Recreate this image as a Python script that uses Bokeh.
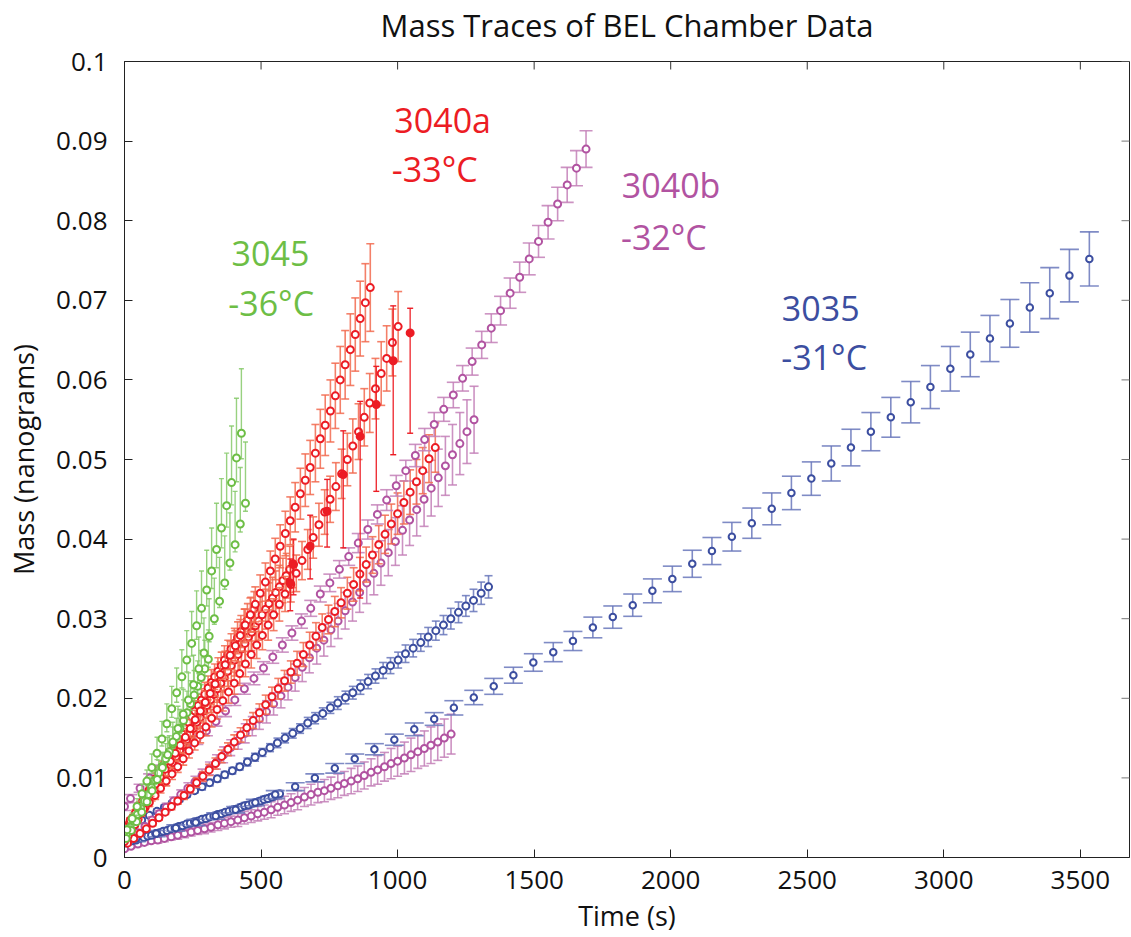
import math
from bokeh.plotting import figure
from bokeh.models import ColumnDataSource, Range1d, FixedTicker, LinearAxis
from bokeh.embed import file_html
from bokeh.resources import INLINE
from bokeh.core.properties import value

# ---------------- data ----------------
title_text = "Mass Traces of BEL Chamber Data"
x_ticks = [0, 500, 1000, 1500, 2000, 2500, 3000, 3500]
y_ticks = [0, 0.01, 0.02, 0.03, 0.04, 0.05, 0.06, 0.07, 0.08, 0.09, 0.1]
y_tick_labels = ["0", "0.01", "0.02", "0.03", "0.04", "0.05", "0.06", "0.07", "0.08", "0.09", "0.1"]
x_max = 3680
y_max = 0.1

# 3035 (-31 C) : sparse run with wide caps
b1_t = [43, 116, 188, 261, 334, 407, 479, 552, 625, 697, 770, 843, 915, 988, 1061, 1134, 1206, 1279, 1352, 1424,
        1497, 1570, 1642, 1715, 1788, 1861, 1933, 2006, 2079, 2151, 2224, 2297, 2370, 2442, 2515, 2588, 2660, 2733,
        2806, 2879, 2951, 3024, 3097, 3169, 3242, 3315, 3388, 3460, 3533]
b1_m = [0.0024, 0.0030, 0.0037, 0.0044, 0.0052, 0.0060, 0.0069, 0.0079, 0.0089, 0.0100, 0.0112, 0.0124, 0.0136,
        0.0148, 0.0161, 0.0174, 0.0188, 0.0201, 0.0215, 0.0229, 0.0245, 0.0258, 0.0272, 0.0289, 0.0302, 0.0317,
        0.0335, 0.0350, 0.0369, 0.0385, 0.0403, 0.0420, 0.0438, 0.0458, 0.0476, 0.0495, 0.0515, 0.0535, 0.0553,
        0.0572, 0.0591, 0.0614, 0.0632, 0.0652, 0.0671, 0.0691, 0.0709, 0.0731, 0.0752]
b1_e = [0.0004, 0.0004, 0.0004, 0.0004, 0.0004, 0.0004, 0.0004, 0.0005, 0.0005, 0.0005, 0.0006, 0.0006, 0.0007,
        0.0007, 0.0008, 0.0008, 0.0009, 0.0009, 0.0010, 0.0010, 0.0011, 0.0012, 0.0012, 0.0013, 0.0014, 0.0014,
        0.0015, 0.0016, 0.0017, 0.0017, 0.0018, 0.0019, 0.0020, 0.0021, 0.0021, 0.0022, 0.0023, 0.0024, 0.0025,
        0.0026, 0.0027, 0.0028, 0.0028, 0.0029, 0.0030, 0.0031, 0.0032, 0.0033, 0.0034]

# 3035 : middle run
b2_t = [8, 36, 63, 91, 119, 146, 174, 201, 229, 257, 284, 312, 340, 367, 395, 422, 450, 478, 505, 533, 560, 588,
        616, 643, 671, 698, 726, 754, 781, 809, 836, 864, 892, 919, 947, 974, 1002, 1029, 1057, 1085, 1112, 1140,
        1168, 1195, 1223, 1250, 1278, 1306, 1333]
b2_m = [0.0036, 0.0041, 0.0047, 0.0053, 0.0058, 0.0063, 0.0068, 0.0073, 0.0079, 0.0084, 0.0089, 0.0094, 0.0099,
        0.0104, 0.0109, 0.0114, 0.0120, 0.0126, 0.0132, 0.0138, 0.0144, 0.0150, 0.0156, 0.0162, 0.0169, 0.0175,
        0.0181, 0.0188, 0.0194, 0.0201, 0.0207, 0.0214, 0.0221, 0.0228, 0.0235, 0.0241, 0.0248, 0.0256, 0.0263,
        0.0270, 0.0277, 0.0285, 0.0292, 0.0300, 0.0308, 0.0316, 0.0323, 0.0332, 0.0340]
b2_e = [0.0003, 0.0003, 0.0003, 0.0003, 0.0003, 0.0003, 0.0003, 0.0003, 0.0003, 0.0003,
        0.0004, 0.0004, 0.0004, 0.0004, 0.0004, 0.0004, 0.0005, 0.0005, 0.0005, 0.0005,
        0.0006, 0.0006, 0.0006, 0.0006, 0.0007, 0.0007, 0.0007, 0.0007, 0.0008, 0.0008,
        0.0008, 0.0009, 0.0009, 0.0009, 0.0010, 0.0010, 0.0010, 0.0011, 0.0011, 0.0011,
        0.0012, 0.0012, 0.0012, 0.0013, 0.0013, 0.0013, 0.0014, 0.0014, 0.0014]

# 3035 : short dense run
b3_t = [0, 14, 28, 43, 57, 71, 85, 99, 114, 128, 142, 156, 170, 185, 199, 213, 227, 241, 256, 270, 284, 298, 312,
        327, 341, 355, 369, 383, 398, 412, 426, 440, 454, 469, 483, 497, 511, 525, 540, 554, 568]
b3_m = [0.0018, 0.0019, 0.0021, 0.0022, 0.0024, 0.0025, 0.0027, 0.0028, 0.0030, 0.0031, 0.0033, 0.0034, 0.0036,
        0.0037, 0.0039, 0.0040, 0.0042, 0.0043, 0.0045, 0.0046, 0.0048, 0.0049, 0.0051, 0.0052, 0.0054, 0.0055,
        0.0057, 0.0058, 0.0060, 0.0061, 0.0063, 0.0065, 0.0066, 0.0068, 0.0069, 0.0071, 0.0073, 0.0074, 0.0076,
        0.0078, 0.0080]
b3_e = [0.0002, 0.0002, 0.0002, 0.0002, 0.0002, 0.0002, 0.0002, 0.0002, 0.0002, 0.0002, 0.0002, 0.0002, 0.0002,
        0.0002, 0.0003, 0.0003, 0.0003, 0.0003, 0.0003, 0.0003, 0.0003, 0.0003, 0.0003, 0.0003, 0.0003, 0.0003,
        0.0003, 0.0003, 0.0004, 0.0004, 0.0004, 0.0004, 0.0004, 0.0004, 0.0004, 0.0004, 0.0004, 0.0004, 0.0004,
        0.0004, 0.0004]

# 3040b (-32 C) : lowest run
p1_t = [0, 24, 49, 73, 98, 122, 146, 171, 195, 220, 244, 268, 293, 317, 342, 366, 390, 415, 439, 464, 488, 512,
        537, 561, 586, 610, 634, 659, 683, 708, 732, 756, 781, 805, 830, 854, 878, 903, 927, 952, 976, 1000, 1025,
        1049, 1074, 1098, 1122, 1147, 1171, 1196]
p1_m = [0.0011, 0.0014, 0.0017, 0.0019, 0.0021, 0.0022, 0.0024, 0.0026, 0.0028, 0.0030,
        0.0032, 0.0034, 0.0036, 0.0038, 0.0041, 0.0043, 0.0045, 0.0047, 0.0050, 0.0052,
        0.0055, 0.0057, 0.0060, 0.0063, 0.0066, 0.0069, 0.0072, 0.0076, 0.0079, 0.0082,
        0.0084, 0.0087, 0.0090, 0.0093, 0.0096, 0.0099, 0.0103, 0.0107, 0.0110, 0.0114,
        0.0118, 0.0121, 0.0125, 0.0129, 0.0133, 0.0137, 0.0141, 0.0145, 0.0150, 0.0155]
p1_e = [0.0002, 0.0002, 0.0003, 0.0003, 0.0003, 0.0004, 0.0004, 0.0004, 0.0005, 0.0005,
        0.0005, 0.0005, 0.0006, 0.0006, 0.0007, 0.0007, 0.0007, 0.0008, 0.0008, 0.0008,
        0.0009, 0.0009, 0.0010, 0.0010, 0.0011, 0.0011, 0.0012, 0.0012, 0.0013, 0.0013,
        0.0014, 0.0014, 0.0015, 0.0015, 0.0016, 0.0016, 0.0017, 0.0017, 0.0018, 0.0018,
        0.0019, 0.0019, 0.0020, 0.0021, 0.0021, 0.0022, 0.0023, 0.0023, 0.0024, 0.0025]

# 3040b : main long run
p2_t = [0, 22, 57, 92, 126, 161, 196, 231, 265, 300, 335, 370, 404, 439, 474, 509, 543, 578, 613, 648, 682, 717,
        752, 787, 821, 856, 891, 926, 960, 995, 1030, 1065, 1099, 1134, 1169, 1204, 1238, 1273, 1308, 1343, 1377,
        1412, 1447, 1482, 1516, 1551, 1586, 1621, 1655, 1690]
p2_m = [0.0064, 0.0074, 0.0087, 0.0100, 0.0111, 0.0121, 0.0129, 0.0138, 0.0148, 0.0159, 0.0171,
        0.0184, 0.0198, 0.0212, 0.0225, 0.0238, 0.0252, 0.0267, 0.0282, 0.0297, 0.0313,
        0.0331, 0.0345, 0.0362, 0.0378, 0.0395, 0.0412, 0.0431, 0.0449, 0.0467, 0.0486,
        0.0505, 0.0525, 0.0544, 0.0563, 0.0581, 0.0602, 0.0623, 0.0644, 0.0665, 0.0687,
        0.0709, 0.0729, 0.0752, 0.0774, 0.0798, 0.0821, 0.0845, 0.0866, 0.0890]
p2_e = [0.0005, 0.0005, 0.0005, 0.0005, 0.0005, 0.0005, 0.0005, 0.0006, 0.0006, 0.0006,
        0.0006, 0.0007, 0.0007, 0.0007, 0.0008, 0.0008, 0.0008, 0.0009, 0.0009, 0.0009,
        0.0010, 0.0010, 0.0011, 0.0011, 0.0011, 0.0012, 0.0012, 0.0012, 0.0013, 0.0013,
        0.0013, 0.0014, 0.0014, 0.0015, 0.0015, 0.0016, 0.0016, 0.0017, 0.0017, 0.0018,
        0.0018, 0.0019, 0.0019, 0.0020, 0.0020, 0.0021, 0.0021, 0.0022, 0.0022, 0.0023]

# 3040b : run with larger error bars
p3_t = [22, 49, 75, 101, 127, 153, 180, 206, 232, 258, 284, 311, 337, 363, 389, 416, 442, 468, 494, 520, 546, 573,
        599, 625, 651, 677, 704, 730, 756, 782, 808, 835, 861, 887, 913, 939, 966, 992, 1018, 1044, 1070, 1097,
        1123, 1149, 1175, 1201, 1228, 1254, 1280]
p3_m = [0.0023, 0.0031, 0.0039, 0.0047, 0.0055, 0.0063, 0.0071, 0.0079, 0.0087, 0.0095,
        0.0103, 0.0112, 0.0120, 0.0129, 0.0138, 0.0147, 0.0156, 0.0165, 0.0174, 0.0183,
        0.0193, 0.0203, 0.0214, 0.0226, 0.0239, 0.0251, 0.0263, 0.0273, 0.0286, 0.0297,
        0.0310, 0.0321, 0.0333, 0.0345, 0.0357, 0.0370, 0.0383, 0.0397, 0.0411, 0.0424,
        0.0437, 0.0450, 0.0464, 0.0477, 0.0492, 0.0506, 0.0520, 0.0535, 0.0550]
p3_e = [0.0002, 0.0002, 0.0003, 0.0004, 0.0004, 0.0005, 0.0005, 0.0006, 0.0007, 0.0007,
        0.0008, 0.0008, 0.0009, 0.0010, 0.0010, 0.0011, 0.0012, 0.0012, 0.0013, 0.0014,
        0.0014, 0.0015, 0.0016, 0.0017, 0.0018, 0.0019, 0.0020, 0.0020, 0.0021, 0.0022,
        0.0023, 0.0024, 0.0025, 0.0026, 0.0027, 0.0028, 0.0029, 0.0030, 0.0031, 0.0032,
        0.0033, 0.0034, 0.0035, 0.0036, 0.0037, 0.0038, 0.0039, 0.0040, 0.0042]

# 3040a (-33 C) : steepest run
r1_t = [3, 21, 40, 58, 76, 95, 113, 131, 149, 168, 186, 204, 223, 241, 259, 278, 296, 314, 332, 351, 369, 387,
        406, 424, 442, 461, 479, 497, 516, 534, 552, 570, 589, 607, 625, 644, 662, 680, 699, 717, 735, 754, 772,
        790, 808, 827, 845, 863, 882, 900]
r1_m = [0.0038, 0.0047, 0.0056, 0.0065, 0.0074, 0.0083, 0.0092, 0.0101, 0.0111, 0.0121,
        0.0131, 0.0141, 0.0151, 0.0162, 0.0173, 0.0184, 0.0195, 0.0206, 0.0218, 0.0230,
        0.0242, 0.0254, 0.0266, 0.0279, 0.0292, 0.0305, 0.0318, 0.0332, 0.0346, 0.0360,
        0.0375, 0.0391, 0.0407, 0.0423, 0.0440, 0.0457, 0.0474, 0.0490, 0.0508, 0.0526,
        0.0543, 0.0561, 0.0580, 0.0600, 0.0619, 0.0638, 0.0657, 0.0677, 0.0697, 0.0716]
r1_e = [0.0003, 0.0003, 0.0004, 0.0005, 0.0005, 0.0006, 0.0006, 0.0007, 0.0008, 0.0008,
        0.0009, 0.0010, 0.0011, 0.0011, 0.0012, 0.0013, 0.0014, 0.0014, 0.0015, 0.0016,
        0.0017, 0.0018, 0.0019, 0.0020, 0.0020, 0.0021, 0.0022, 0.0023, 0.0024, 0.0025,
        0.0026, 0.0027, 0.0028, 0.0030, 0.0031, 0.0032, 0.0033, 0.0034, 0.0036, 0.0037,
        0.0038, 0.0039, 0.0041, 0.0042, 0.0043, 0.0045, 0.0046, 0.0047, 0.0049, 0.0055]

# 3040a : second open-circle run
r2_t = [8, 29, 50, 70, 91, 112, 132, 153, 174, 195, 215, 236, 257, 277, 298, 319, 339, 360, 381, 402, 422, 443,
        464, 484, 505, 526, 546, 567, 588, 609, 629, 650, 671, 691, 712, 733, 753, 774, 795, 816, 836, 857, 878,
        898, 919, 940, 960, 981, 1002]
r2_m = [0.0037, 0.0045, 0.0053, 0.0061, 0.0069, 0.0078, 0.0087, 0.0096, 0.0105, 0.0114,
        0.0124, 0.0134, 0.0144, 0.0154, 0.0164, 0.0175, 0.0186, 0.0197, 0.0208, 0.0219,
        0.0231, 0.0243, 0.0255, 0.0267, 0.0279, 0.0292, 0.0305, 0.0318, 0.0331, 0.0343,
        0.0357, 0.0373, 0.0387, 0.0402, 0.0418, 0.0434, 0.0450, 0.0466, 0.0482, 0.0500,
        0.0517, 0.0535, 0.0553, 0.0571, 0.0589, 0.0608, 0.0627, 0.0647, 0.0667]
r2_e = [0.0003, 0.0003, 0.0004, 0.0004, 0.0005, 0.0005, 0.0006, 0.0006, 0.0007, 0.0007,
        0.0008, 0.0009, 0.0009, 0.0010, 0.0011, 0.0011, 0.0012, 0.0013, 0.0014, 0.0014,
        0.0015, 0.0016, 0.0017, 0.0017, 0.0018, 0.0019, 0.0020, 0.0021, 0.0022, 0.0022,
        0.0023, 0.0024, 0.0025, 0.0026, 0.0027, 0.0028, 0.0029, 0.0030, 0.0031, 0.0033,
        0.0034, 0.0035, 0.0036, 0.0037, 0.0038, 0.0040, 0.0041, 0.0042, 0.0044]

# 3040a : run mixed with the purple ones
r3_t = [11, 34, 57, 80, 103, 126, 149, 172, 195, 218, 241, 264, 287, 310, 333, 356, 379, 402, 425, 448, 471, 494,
        517, 540, 563, 586, 609, 632, 655, 678, 701, 724, 747, 770, 793, 816, 839, 862, 885, 908, 931, 954, 977,
        1000, 1023, 1046, 1069, 1092, 1115, 1138]
r3_m = [0.0018, 0.0024, 0.0030, 0.0036, 0.0043, 0.0050, 0.0057, 0.0064, 0.0071, 0.0078,
        0.0086, 0.0094, 0.0102, 0.0110, 0.0118, 0.0127, 0.0136, 0.0145, 0.0154, 0.0163,
        0.0172, 0.0182, 0.0192, 0.0202, 0.0212, 0.0222, 0.0233, 0.0244, 0.0255, 0.0267,
        0.0278, 0.0289, 0.0299, 0.0309, 0.0320, 0.0332, 0.0343, 0.0356, 0.0368, 0.0380,
        0.0393, 0.0406, 0.0419, 0.0432, 0.0446, 0.0459, 0.0472, 0.0486, 0.0501, 0.0515]
r3_e = [0.0002, 0.0002, 0.0002, 0.0002, 0.0003, 0.0003, 0.0003, 0.0004, 0.0004, 0.0005,
        0.0005, 0.0006, 0.0006, 0.0007, 0.0007, 0.0008, 0.0008, 0.0009, 0.0009, 0.0010,
        0.0010, 0.0011, 0.0012, 0.0012, 0.0013, 0.0013, 0.0014, 0.0015, 0.0015, 0.0016,
        0.0017, 0.0017, 0.0018, 0.0019, 0.0019, 0.0020, 0.0021, 0.0021, 0.0022, 0.0023,
        0.0024, 0.0024, 0.0025, 0.0026, 0.0027, 0.0028, 0.0028, 0.0029, 0.0030, 0.0031]

# 3040a : dense runs
r4_t = [0, 13, 25, 38, 50, 63, 76, 88, 101, 113, 126, 139, 151, 164, 176, 189, 202, 214, 227, 239, 252, 265, 277,
        290, 302, 315, 328, 340, 353, 365, 378, 391, 403, 416, 428, 441, 454, 466, 479, 491, 504, 517, 529, 542,
        554, 567, 580, 592, 605, 617]
r4_m = [0.0020, 0.0027, 0.0034, 0.0041, 0.0048, 0.0056, 0.0063, 0.0070, 0.0077, 0.0084,
        0.0091, 0.0098, 0.0105, 0.0113, 0.0119, 0.0127, 0.0134, 0.0141, 0.0148, 0.0155,
        0.0162, 0.0170, 0.0176, 0.0184, 0.0191, 0.0198, 0.0205, 0.0212, 0.0219, 0.0226,
        0.0234, 0.0241, 0.0248, 0.0255, 0.0262, 0.0269, 0.0277, 0.0283, 0.0291, 0.0297,
        0.0305, 0.0312, 0.0319, 0.0326, 0.0333, 0.0340, 0.0348, 0.0354, 0.0362, 0.0369]
r4_e = [0.0002, 0.0002, 0.0003, 0.0003, 0.0004, 0.0004, 0.0005, 0.0006, 0.0006, 0.0007,
        0.0007, 0.0008, 0.0008, 0.0009, 0.0010, 0.0010, 0.0011, 0.0011, 0.0012, 0.0012,
        0.0013, 0.0014, 0.0014, 0.0015, 0.0015, 0.0016, 0.0016, 0.0017, 0.0018, 0.0018,
        0.0019, 0.0019, 0.0020, 0.0020, 0.0021, 0.0022, 0.0022, 0.0023, 0.0023, 0.0024,
        0.0024, 0.0025, 0.0026, 0.0026, 0.0027, 0.0027, 0.0028, 0.0028, 0.0029, 0.0030]

r5_t = [6, 18, 30, 42, 54, 66, 78, 90, 102, 114, 126, 138, 150, 162, 174, 186, 198, 210, 222, 234, 246, 258, 270,
        282, 294, 306, 318, 330, 342, 354, 366, 378, 390, 402, 414, 426, 438, 450, 462, 474]
r5_m = [0.0036, 0.0043, 0.0050, 0.0057, 0.0064, 0.0071, 0.0078, 0.0085, 0.0092, 0.0099,
        0.0106, 0.0113, 0.0120, 0.0127, 0.0135, 0.0142, 0.0149, 0.0156, 0.0163, 0.0170,
        0.0177, 0.0184, 0.0191, 0.0198, 0.0205, 0.0213, 0.0220, 0.0227, 0.0234, 0.0241,
        0.0248, 0.0255, 0.0262, 0.0269, 0.0276, 0.0284, 0.0291, 0.0298, 0.0305, 0.0312]
r5_e = [0.0003, 0.0003, 0.0004, 0.0004, 0.0005, 0.0005, 0.0006, 0.0006, 0.0007, 0.0007,
        0.0008, 0.0008, 0.0009, 0.0009, 0.0010, 0.0010, 0.0011, 0.0011, 0.0012, 0.0012,
        0.0013, 0.0013, 0.0014, 0.0014, 0.0015, 0.0015, 0.0016, 0.0016, 0.0017, 0.0017,
        0.0018, 0.0018, 0.0019, 0.0019, 0.0020, 0.0020, 0.0021, 0.0021, 0.0022, 0.0022]

# 3040a : filled points with long lower bars
rf_t = [607, 619, 680, 742, 801, 863, 922, 984, 1046]
rf_m = [0.0345, 0.0368, 0.0391, 0.0435, 0.0481, 0.0529, 0.0569, 0.0624, 0.0659]
rf_hi = [0.0375, 0.0400, 0.0430, 0.0475, 0.0536, 0.0573, 0.0617, 0.0693, 0.0690]
rf_lo = [0.0310, 0.0330, 0.0350, 0.0390, 0.0389, 0.0326, 0.0460, 0.0506, 0.0533]

# 3045 (-36 C)
g1_t = [9, 28, 46, 64, 82, 100, 119, 137, 155, 173, 191, 210, 228, 246, 264, 282, 301, 319, 337, 355, 374, 392,
        410, 428]
g1_m = [0.0035, 0.0049, 0.0064, 0.0080, 0.0096, 0.0113, 0.0131, 0.0149, 0.0168, 0.0187, 0.0207, 0.0227, 0.0248,
        0.0269, 0.0291, 0.0313, 0.0336, 0.0360, 0.0387, 0.0414, 0.0442, 0.0471, 0.0502, 0.0533]
g1_up = [0.0005, 0.0007, 0.0010, 0.0012, 0.0014, 0.0017, 0.0020, 0.0022, 0.0025, 0.0028, 0.0031, 0.0034, 0.0037,
         0.0040, 0.0044, 0.0047, 0.0050, 0.0054, 0.0058, 0.0062, 0.0066, 0.0071, 0.0075, 0.0081]
g1_dn = [0.0002, 0.0003, 0.0004, 0.0005, 0.0006, 0.0007, 0.0008, 0.0009, 0.0010, 0.0011, 0.0012, 0.0014, 0.0015,
         0.0016, 0.0017, 0.0019, 0.0020, 0.0022, 0.0023, 0.0025, 0.0027, 0.0028, 0.0030, 0.0032]

g2_t = [6, 25, 44, 63, 82, 101, 120, 139, 158, 177, 196, 215, 234, 253, 272, 291, 310, 329, 348, 367, 386, 405,
        424, 443]
g2_m = [0.0024, 0.0034, 0.0045, 0.0057, 0.0070, 0.0084, 0.0098, 0.0113, 0.0129, 0.0145, 0.0162, 0.0180, 0.0198,
        0.0217, 0.0237, 0.0257, 0.0278, 0.0300, 0.0322, 0.0345, 0.0370, 0.0393, 0.0419, 0.0445]
g2_up = [0.0004, 0.0006, 0.0008, 0.0010, 0.0012, 0.0014, 0.0017, 0.0019, 0.0022, 0.0025, 0.0028, 0.0031, 0.0034,
         0.0037, 0.0040, 0.0044, 0.0047, 0.0051, 0.0055, 0.0059, 0.0063, 0.0067, 0.0071, 0.0077]
g2_dn = [0.0001, 0.0001, 0.0001, 0.0001, 0.0002, 0.0002, 0.0002, 0.0003, 0.0003, 0.0003, 0.0004, 0.0004, 0.0005,
         0.0005, 0.0006, 0.0006, 0.0007, 0.0007, 0.0008, 0.0008, 0.0009, 0.0009, 0.0010, 0.0010]

g3_t = [8, 21, 34, 47, 60, 73, 86, 99, 112, 125, 138, 151, 164, 177, 190, 203, 216, 229, 242, 255, 268, 281, 294,
        307]
g3_m = [0.0030, 0.0038, 0.0046, 0.0054, 0.0062, 0.0071, 0.0079, 0.0088, 0.0097, 0.0106, 0.0115, 0.0124, 0.0133,
        0.0143, 0.0152, 0.0162, 0.0172, 0.0182, 0.0193, 0.0204, 0.0215, 0.0226, 0.0237, 0.0249]
g3_up = [0.0005, 0.0006, 0.0007, 0.0008, 0.0009, 0.0011, 0.0012, 0.0013, 0.0015, 0.0016, 0.0017, 0.0019, 0.0020,
         0.0021, 0.0023, 0.0024, 0.0026, 0.0027, 0.0029, 0.0031, 0.0032, 0.0034, 0.0036, 0.0037]
g3_dn = [0.0001, 0.0002, 0.0002, 0.0002, 0.0002, 0.0003, 0.0003, 0.0004, 0.0004, 0.0004, 0.0005, 0.0005, 0.0005,
         0.0006, 0.0006, 0.0006, 0.0007, 0.0007, 0.0008, 0.0008, 0.0009, 0.0009, 0.0009, 0.0010]

label_texts = ["3040a", "-33°C", "3045", "-36°C", "3040b", "-32°C", "3035", "-31°C"]
label_keys = ["red", "red", "green", "green", "purple", "purple", "blue", "blue"]
label_t = [988, 979, 392, 380, 1821, 1818, 2407, 2405]
label_m = [0.0927, 0.0865, 0.0759, 0.0696, 0.0845, 0.0780, 0.0690, 0.0629]

# ---------------- styling ----------------
COL = {"red": "#ec1c24", "green": "#6dbe45", "purple": "#b153a1", "blue": "#3c4ea0"}
BAR = {"red": "#f26a4f", "green": "#86c96a", "purple": "#c37fb7", "blue": "#6877bb"}
FONT = "Open Sans"

p = figure(width=1131, height=937, output_backend="svg", toolbar_location=None,
           x_range=Range1d(0, x_max), y_range=Range1d(0, y_max),
           min_border_left=124, min_border_right=2, min_border_top=60, min_border_bottom=80)
p.background_fill_color = "white"
p.border_fill_color = "white"
p.xgrid.visible = False
p.ygrid.visible = False
p.outline_line_color = "#222222"
p.outline_line_width = 1

bottom_axis = p.below[0]
left_axis = p.left[0]
for ax in (bottom_axis, left_axis):
    ax.major_tick_in = 8
    ax.major_tick_out = 0
    ax.minor_tick_line_color = None
    ax.axis_line_color = "#222222"
    ax.major_tick_line_color = "#222222"
    ax.major_label_text_font = FONT
    ax.major_label_text_font_size = "26px"
    ax.major_label_text_color = "#111111"
    ax.axis_label_text_font = FONT
    ax.axis_label_text_font_size = "27px"
    ax.axis_label_text_font_style = "normal"
    ax.axis_label_text_color = "#111111"

bottom_axis.ticker = FixedTicker(ticks=x_ticks)
left_axis.ticker = FixedTicker(ticks=y_ticks)
left_axis.major_label_overrides = {v: s for v, s in zip(y_ticks, y_tick_labels)}
bottom_axis.axis_label = "Time (s)"
left_axis.axis_label = "Mass (nanograms)"
bottom_axis.major_label_standoff = 13
left_axis.major_label_standoff = 17
bottom_axis.axis_label_standoff = 5
left_axis.axis_label_standoff = 11

# title: label of a tick-less axis placed above the frame
top_axis = LinearAxis(ticker=FixedTicker(ticks=[]), axis_label=title_text,
                      axis_line_color=None, major_tick_line_color=None, minor_tick_line_color=None,
                      axis_label_standoff=16, axis_label_text_font=FONT, axis_label_text_font_size="31px",
                      axis_label_text_font_style="normal", axis_label_text_color="#111111")
p.add_layout(top_axis, "above")

# inward tick marks on the top and right edges of the box
p.scatter(x=x_ticks, y=[y_max] * len(x_ticks), marker="dash", angle=math.pi / 2, size=16,
          line_color="#333333", line_width=1)
p.scatter(x=[x_max] * len(y_ticks), y=y_ticks, marker="dash", size=16,
          line_color="#777777", line_width=1)


def add_series(t, m, up_err, dn_err, key, cap, size=7, filled=False, bar_w=1.6, bar_alpha=0.85):
    n = min(len(t), len(m), len(up_err), len(dn_err))
    tt, mm = list(t[:n]), list(m[:n])
    hi = [mm[i] + up_err[i] for i in range(n)]
    lo = [mm[i] - dn_err[i] for i in range(n)]
    src = ColumnDataSource(dict(t=tt, m=mm, hi=hi, lo=lo))
    p.segment(x0="t", y0="lo", x1="t", y1="hi", source=src, line_color=BAR[key],
              line_width=bar_w, line_alpha=bar_alpha)
    p.scatter(x="t", y="hi", source=src, marker="dash", size=cap, line_color=BAR[key],
              line_width=bar_w, line_alpha=bar_alpha)
    p.scatter(x="t", y="lo", source=src, marker="dash", size=cap, line_color=BAR[key],
              line_width=bar_w, line_alpha=bar_alpha)
    p.scatter(x="t", y="m", source=src, marker="circle", size=size, line_color=COL[key],
              line_width=2, fill_color=COL[key] if filled else "white")


def add_abs(t, m, hi, lo, key, cap, size=7, filled=True):
    n = min(len(t), len(m), len(hi), len(lo))
    src = ColumnDataSource(dict(t=list(t[:n]), m=list(m[:n]), hi=list(hi[:n]), lo=list(lo[:n])))
    p.segment(x0="t", y0="lo", x1="t", y1="hi", source=src, line_color=COL[key], line_width=1.4,
              line_alpha=0.9)
    p.scatter(x="t", y="hi", source=src, marker="dash", size=cap, line_color=COL[key], line_width=1.4)
    p.scatter(x="t", y="lo", source=src, marker="dash", size=cap, line_color=COL[key], line_width=1.4)
    p.scatter(x="t", y="m", source=src, marker="circle", size=size, line_color=COL[key],
              line_width=2, fill_color=COL[key] if filled else "white")


add_series(p1_t, p1_m, p1_e, p1_e, "purple", cap=9)
add_series(b3_t, b3_m, b3_e, b3_e, "blue", cap=8)
add_series(b1_t, b1_m, b1_e, b1_e, "blue", cap=19, size=6.5)
add_series(b2_t, b2_m, b2_e, b2_e, "blue", cap=8)
add_series(p3_t, p3_m, p3_e, p3_e, "purple", cap=9)
add_series(r3_t, r3_m, r3_e, r3_e, "red", cap=8)
add_series(p2_t, p2_m, p2_e, p2_e, "purple", cap=13)
add_series(r4_t, r4_m, r4_e, r4_e, "red", cap=7)
add_series(r5_t, r5_m, r5_e, r5_e, "red", cap=7)
add_series(r2_t, r2_m, r2_e, r2_e, "red", cap=8)
add_abs(rf_t, rf_m, rf_hi, rf_lo, "red", cap=6)
add_series(r1_t, r1_m, r1_e, r1_e, "red", cap=8)
add_series(g3_t, g3_m, g3_up, g3_dn, "green", cap=5, bar_w=1.4)
add_series(g2_t, g2_m, g2_up, g2_dn, "green", cap=5, bar_w=1.4)
add_series(g1_t, g1_m, g1_up, g1_dn, "green", cap=5, bar_w=1.4)

lab_src = ColumnDataSource(dict(t=label_t, m=label_m, text=label_texts,
                                color=[COL[k] for k in label_keys]))
p.text(x="t", y="m", text="text", source=lab_src, text_color="color",
       text_font=value(FONT), text_font_size="34px", text_baseline="middle", text_align="left")

open("out.html", "w").write(file_html(p, INLINE))
